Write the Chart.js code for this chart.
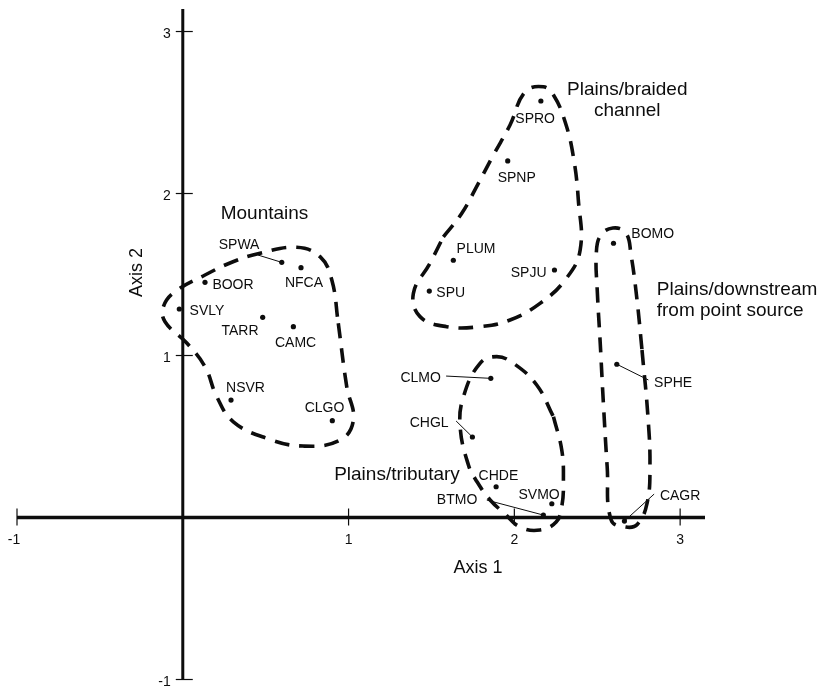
<!DOCTYPE html>
<html>
<head>
<meta charset="utf-8">
<title>Ordination of sampling sites</title>
<script src="https://cdn.jsdelivr.net/npm/chart.js@4.4.1/dist/chart.umd.min.js"></script>
<style>
  html, body { margin: 0; padding: 0; background: #ffffff; }
  canvas { display: block; }
</style>
</head>
<body>
<canvas id="ordination" width="820" height="689"></canvas>
<script>
// Site scores on the first two ordination axes
const siteNames   = ['SVLY', 'BOOR', 'SPWA', 'NFCA', 'TARR', 'CAMC', 'NSVR', 'CLGO',
                     'SPRO', 'SPNP', 'PLUM', 'SPJU', 'SPU', 'BOMO', 'SPHE', 'CAGR',
                     'CLMO', 'CHGL', 'CHDE', 'SVMO', 'BTMO'];
const axis1Scores = [-0.021, 0.134, 0.597, 0.713, 0.482, 0.667, 0.291, 0.902,
                     2.160, 1.960, 1.632, 2.242, 1.487, 2.598, 2.618, 2.664,
                     1.858, 1.747, 1.890, 2.226, 2.175];
const axis2Scores = [1.287, 1.452, 1.575, 1.542, 1.236, 1.178, 0.725, 0.598,
                     2.571, 2.201, 1.588, 1.528, 1.398, 1.693, 0.946, -0.022,
                     0.859, 0.497, 0.190, 0.085, 0.015];

// Tick labels drawn on the crossing axes
const xTickValues = [-1, 1, 2, 3];
const yTickValues = [3, 2, 1, -1];

// Hand-drawn group envelopes, as [axis 1, axis 2] pairs; each list starts
// on a fairly straight stretch so the loop closes without a kink
const mountainsOutline = [
  [0.938, 1.199], [0.989, 0.807], [1.029, 0.602], [0.949, 0.478], [0.727, 0.441],
  [0.506, 0.489], [0.305, 0.591], [0.205, 0.746], [0.134, 0.931], [0.024, 1.077],
  [-0.107, 1.209], [-0.117, 1.301], [-0.047, 1.394], [0.134, 1.497], [0.303, 1.579],
  [0.466, 1.631], [0.687, 1.668], [0.828, 1.610], [0.899, 1.466]
];
const braidedOutline = [
  [1.572, 1.733], [1.683, 1.878], [1.783, 2.063], [1.874, 2.238], [1.974, 2.423],
  [2.065, 2.628], [2.175, 2.659], [2.236, 2.608], [2.306, 2.443], [2.356, 2.227],
  [2.386, 1.960], [2.397, 1.651], [2.306, 1.466], [2.155, 1.322], [1.974, 1.219],
  [1.793, 1.178], [1.592, 1.178], [1.431, 1.240], [1.391, 1.384], [1.491, 1.569]
];
const tributaryOutline = [
  [2.236, 0.622], [2.286, 0.417], [2.296, 0.231], [2.286, 0.067], [2.252, -0.028],
  [2.155, -0.077], [2.035, -0.059], [1.944, 0.022], [1.854, 0.108], [1.776, 0.219],
  [1.723, 0.324], [1.673, 0.560], [1.693, 0.746], [1.793, 0.952], [1.894, 0.993],
  [1.994, 0.952], [2.135, 0.818]
];
const downstreamOutline = [
  [2.770, 1.034], [2.806, 0.620], [2.818, 0.312], [2.801, 0.090], [2.744, -0.040],
  [2.674, -0.059], [2.584, -0.015], [2.560, 0.312], [2.536, 0.725], [2.518, 1.077],
  [2.500, 1.404], [2.494, 1.620], [2.518, 1.738], [2.594, 1.787], [2.673, 1.756],
  [2.704, 1.620], [2.740, 1.343]
];

// Group names and where they are written (axis units)
const groupTitles = [
  { lines: ['Mountains'], x: 0.493, y: 1.886, align: 'center' },
  { lines: ['Plains/braided', 'channel'], x: 2.681, y: 2.649, align: 'center' },
  { lines: ['Plains/downstream', 'from point source'], x: 2.859, y: 1.415, align: 'left' },
  { lines: ['Plains/tributary'], x: 0.913, y: 0.275, align: 'left' }
];

// Label placement around each site marker, in pixels: text centre offset
// and, where a pointer line is used, the far end of that line.
const labelPlacement = {
  SVLY: { dx: 27.7, dy: 1 },
  BOOR: { dx: 28, dy: 2 },
  SPWA: { dx: -42.7, dy: -18.3, lead: [-23.7, -7.3] },
  NFCA: { dx: 3, dy: 14.3 },
  TARR: { dx: -22.7, dy: 12.7 },
  CAMC: { dx: 2.2, dy: 15 },
  NSVR: { dx: 14.5, dy: -13 },
  CLGO: { dx: -7.8, dy: -14 },
  SPRO: { dx: -5.7, dy: 17 },
  SPNP: { dx: 9, dy: 16.3 },
  PLUM: { dx: 22.7, dy: -12.6 },
  SPJU: { dx: -25.8, dy: 2 },
  SPU:  { dx: 21.4, dy: 0.7 },
  BOMO: { dx: 39.2, dy: -10.3 },
  SPHE: { dx: 56.3, dy: 17.7, lead: [31.6, 15.7] },
  CAGR: { dx: 55.7, dy: -26, lead: [29.7, -27] },
  CLMO: { dx: -70.2, dy: -1, lead: [-44.7, -2.3] },
  CHGL: { dx: -43.3, dy: -15, lead: [-16.3, -16] },
  CHDE: { dx: 2.3, dy: -11.7 },
  SVMO: { dx: -12.7, dy: -9.7 },
  BTMO: { dx: -86.3, dy: -16, lead: [-56.6, -15] }
};

const FONT = '"Liberation Sans", Arimo, Arial, Helvetica, sans-serif';
const INK = '#0d0d0d';

function closedLoop(pairs) {
  const pts = pairs.map(p => ({ x: p[0], y: p[1] }));
  pts.push({ x: pairs[0][0], y: pairs[0][1] });
  return pts;
}

function outlineDataset(pairs) {
  return {
    type: 'scatter',
    data: closedLoop(pairs),
    showLine: true,
    tension: 0.42,
    borderColor: INK,
    borderWidth: 3.6,
    borderDash: [15, 10],
    borderCapStyle: 'butt',
    pointRadius: 0,
    pointHoverRadius: 0,
    fill: false
  };
}

// Draw text so that the middle of its capital letters lands on y
function capText(ctx, text, x, y, size, align) {
  ctx.font = size + 'px ' + FONT;
  ctx.textAlign = align || 'center';
  ctx.textBaseline = 'alphabetic';
  ctx.fillText(text, x, y + size * 0.358);
}

const crossingAxes = {
  id: 'crossingAxes',
  beforeDatasetsDraw(chart) {
    const { ctx, scales: { x, y } } = chart;
    const x0 = x.getPixelForValue(0);
    const y0 = y.getPixelForValue(0);
    ctx.save();
    ctx.strokeStyle = INK;
    ctx.lineCap = 'butt';
    // axis 1 (horizontal) and axis 2 (vertical) through the origin
    ctx.lineWidth = 3.6;
    ctx.beginPath();
    ctx.moveTo(x.getPixelForValue(x.min), y0);
    ctx.lineTo(x.getPixelForValue(x.max), y0);
    ctx.stroke();
    ctx.lineWidth = 3;
    ctx.beginPath();
    ctx.moveTo(x0, y.getPixelForValue(y.min));
    ctx.lineTo(x0, y.getPixelForValue(y.max));
    ctx.stroke();
    // tick marks
    ctx.lineWidth = 1.2;
    xTickValues.forEach(v => {
      const px = x.getPixelForValue(v);
      ctx.beginPath();
      ctx.moveTo(px, y0 - 9);
      ctx.lineTo(px, y0 + 8);
      ctx.stroke();
    });
    yTickValues.forEach(v => {
      const py = y.getPixelForValue(v);
      ctx.beginPath();
      ctx.moveTo(x0 - 7, py);
      ctx.lineTo(x0 + 10, py);
      ctx.stroke();
    });
    // tick labels
    ctx.fillStyle = INK;
    xTickValues.forEach(v => {
      const label = v < 0 ? '-' + Math.abs(v) : String(v);
      const shift = v < 0 ? -3 : 0;
      capText(ctx, label, x.getPixelForValue(v) + shift, y0 + 21, 14, 'center');
    });
    yTickValues.forEach(v => {
      const label = v < 0 ? '-' + Math.abs(v) : String(v);
      capText(ctx, label, x0 - 12, y.getPixelForValue(v) + 1, 14, 'right');
    });
    // axis titles
    capText(ctx, 'Axis 1', x.getPixelForValue(1.781), y.getPixelForValue(-0.300), 18, 'center');
    ctx.save();
    ctx.translate(x.getPixelForValue(-0.282), y.getPixelForValue(1.512));
    ctx.rotate(-Math.PI / 2);
    capText(ctx, 'Axis 2', 0, 0, 18, 'center');
    ctx.restore();
    ctx.restore();
  },
  afterDatasetsDraw(chart) {
    const { ctx, scales: { x, y } } = chart;
    ctx.save();
    ctx.fillStyle = INK;
    ctx.strokeStyle = INK;
    ctx.lineWidth = 1;
    // site labels and pointer lines
    siteNames.forEach((name, i) => {
      const px = x.getPixelForValue(axis1Scores[i]);
      const py = y.getPixelForValue(axis2Scores[i]);
      const place = labelPlacement[name];
      if (place.lead) {
        ctx.beginPath();
        ctx.moveTo(px, py);
        ctx.lineTo(px + place.lead[0], py + place.lead[1]);
        ctx.stroke();
      }
      capText(ctx, name, px + place.dx, py + place.dy, 14, 'center');
    });
    // group names
    groupTitles.forEach(g => {
      const gx = x.getPixelForValue(g.x);
      const gy = y.getPixelForValue(g.y);
      g.lines.forEach((line, k) => {
        capText(ctx, line, gx, gy + k * 21, 19, g.align);
      });
    });
    ctx.restore();
  }
};

new Chart(document.getElementById('ordination'), {
  type: 'scatter',
  data: {
    datasets: [
      outlineDataset(mountainsOutline),
      outlineDataset(braidedOutline),
      outlineDataset(tributaryOutline),
      outlineDataset(downstreamOutline),
      {
        type: 'scatter',
        label: 'Sites',
        data: siteNames.map((n, i) => ({ x: axis1Scores[i], y: axis2Scores[i] })),
        pointRadius: 2.6,
        pointHoverRadius: 2.6,
        pointBackgroundColor: INK,
        pointBorderWidth: 0,
        showLine: false
      }
    ]
  },
  options: {
    responsive: false,
    animation: false,
    events: [],
    layout: { padding: { left: 17, right: 115, top: 9, bottom: 9.5 } },
    plugins: { legend: { display: false }, tooltip: { enabled: false } },
    scales: {
      x: { type: 'linear', min: -1, max: 3.15, display: false },
      y: { type: 'linear', min: -1, max: 3.139, display: false }
    }
  },
  plugins: [crossingAxes]
});
</script>
</body>
</html>
